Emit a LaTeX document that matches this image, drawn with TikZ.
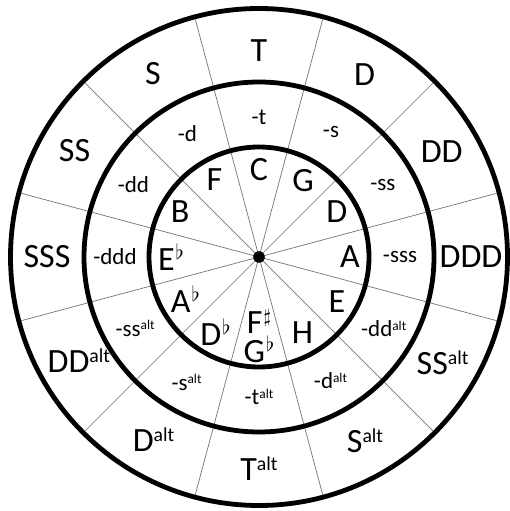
\documentclass[tikz,border=0pt]{standalone}
\usepackage{fontspec}
\setmainfont{Carlito}
\newcommand\hi[1]{\raisebox{.29em}{\scalebox{.58}{#1}}}
\newcommand\fl{\hspace{1pt}\raisebox{11pt}{\scalebox{2.1}{\normalsize$\flat$}}}
\newcommand\shp{\hspace{1pt}\raisebox{10.5pt}{\scalebox{1.9}{\normalsize$\sharp$}}}
\tikzset{
  ring/.style={line width=4.8pt},
  spoke/.style={line width=0.7pt, black!55},
  outerlab/.style={font=\fontsize{34}{36}\selectfont, inner sep=0pt},
  midlab/.style={font=\fontsize{23}{25}\selectfont, inner sep=0pt},
  innerlab/.style={font=\fontsize{34}{29}\selectfont, inner sep=0pt, align=center},
}
\begin{document}
\begin{tikzpicture}[x=1pt,y=1pt]
\useasboundingbox (0,0) rectangle (509,511);
\coordinate (c) at (259,254);
% spokes
\foreach \a in {15,45,...,345} \draw[spoke] (c) -- ++(\a:248.5);
% rings
\draw[ring] (c) circle[radius=248.5];
\draw[ring] (c) circle[radius=175];
\draw[ring] (c) circle[radius=110];
\fill (c) circle[radius=5.8];
% outer labels
\path (c) ++(90:206) node[outerlab] (oT) {T};
\path (c) ++(60:211) node[outerlab] (oD) {D};
\path (c) ++(30:211) node[outerlab] (oDD) {DD};
\path (c) ++(0:212) node[outerlab] (oDDD) {DDD};
\path (c) ++(-30:212) node[outerlab] (oSSa) {SS\hi{alt}};
\path (c) ++(-60:212) node[outerlab] (oSa) {S\hi{alt}};
\path (c) ++(-90:212) node[outerlab] (oTa) {T\hi{alt}};
\path (c) ++(-120:211) node[outerlab] (oDa) {D\hi{alt}};
\path (c) ++(-150:208) node[outerlab] (oDDa) {DD\hi{alt}};
\path (c) ++(180:212) node[outerlab] (oSSS) {SSS};
\path (c) ++(150:213) node[outerlab] (oSS) {SS};
\path (c) ++(120:212) node[outerlab] (oS) {S};
% middle labels
\path (c) ++(90:140) node[midlab] (mt) {-t};
\path (c) ++(60:144) node[midlab] (ms) {-s};
\path (c) ++(30:143) node[midlab] (mss) {-ss};
\path (c) ++(0:141) node[midlab] (msss) {-sss};
\path (c) ++(-30:144) node[midlab] (mdda) {-dd\hi{alt}};
\path (c) ++(-60:143) node[midlab] (mda) {-d\hi{alt}};
\path (c) ++(-90:140) node[midlab] (mta) {-t\hi{alt}};
\path (c) ++(-120:145) node[midlab] (msa) {-s\hi{alt}};
\path (c) ++(-150:143) node[midlab] (mssa) {-ss\hi{alt}};
\path (c) ++(180:144) node[midlab] (mddd) {-ddd};
\path (c) ++(150:145) node[midlab] (mdd) {-dd};
\path (c) ++(120:143) node[midlab] (md) {-d};
% inner labels
\path (c) ++(90:87) node[innerlab] (iC) {C};
\path (c) ++(60:88) node[innerlab] (iG) {G};
\path (c) ++(30:90) node[innerlab] (iD) {D};
\path (c) ++(0:91) node[innerlab] (iA) {A};
\path (c) ++(-30:90) node[innerlab] (iE) {E};
\path (c) ++(-60:87) node[innerlab] (iH) {H};
\path (c) ++(-90:79) node[innerlab] (iFG) {F\shp\\G\fl};
\path (c) ++(-120:87) node[innerlab] (iDb) {D\fl};
\path (c) ++(-150:85) node[innerlab] (iAb) {A\fl};
\path (c) ++(180:88) node[innerlab] (iEb) {E\fl};
\path (c) ++(150:91) node[innerlab] (iB) {B};
\path (c) ++(120:89) node[innerlab] (iF) {F};
\end{tikzpicture}
\end{document}
